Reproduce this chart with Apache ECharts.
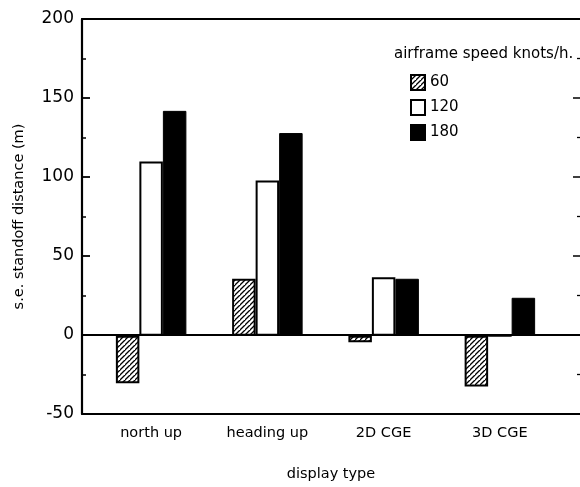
<!DOCTYPE html>
<html>
<head>
<meta charset="utf-8">
<script src="https://cdn.jsdelivr.net/npm/echarts@6/dist/echarts.min.js"></script>
<style>html,body{margin:0;padding:0;background:#fff}#c{width:580px;height:487px}</style>
</head>
<body>
<div id="c"></div>
<script>
var categories = ['north up', 'heading up', '2D CGE', '3D CGE'];
var speed60 = [-30, 36, -4, -32];
var speed120 = [110, 98, 37, 0];
var speed180 = [142, 128, 36, 24];
var seriesNames = ['60', '120', '180'];
var yTicks = [-50, 0, 50, 100, 150, 200];

var F = 'DejaVu Sans';

// hatch pattern "/"
var pc = document.createElement('canvas');
var s = 5;
pc.width = s; pc.height = s;
var g = pc.getContext('2d');
g.fillStyle = '#fff'; g.fillRect(0, 0, s, s);
g.strokeStyle = '#000'; g.lineWidth = 1.3;
g.beginPath();
g.moveTo(-1, s + 1); g.lineTo(s + 1, -1);
g.moveTo(-1 - s, s + 1); g.lineTo(1, -1);
g.moveTo(s - 1, 2 * s + 1); g.lineTo(2 * s + 1, s - 1);
g.stroke();

var chart = echarts.init(document.getElementById('c'));
var yMin = yTicks[0], yMax = yTicks[yTicks.length - 1];
chart.setOption({
  animation: false,
  title: {
    text: 'airframe speed knots/h.',
    left: 389, top: 42,
    textStyle: { fontFamily: F, fontSize: 15, fontWeight: 'normal', color: '#000' }
  },
  legend: {
    data: seriesNames,
    orient: 'vertical',
    left: 405, top: 69,
    itemWidth: 14, itemHeight: 15, itemGap: 8,
    icon: 'rect',
    textStyle: { fontFamily: F, fontSize: 15, color: '#000' }
  },
  grid: [
    { left: 93, width: 465, top: 19, bottom: 72 },
    { left: 82, right: 0, top: 19, bottom: 72 }
  ],
  xAxis: [
    {
      type: 'category', gridIndex: 0, data: categories, position: 'bottom',
      axisLine: { show: false, onZero: false }, axisTick: { show: false },
      axisLabel: { margin: 11, fontFamily: F, fontSize: 14.5, color: '#000' }
    },
    {
      type: 'value', gridIndex: 1, min: 0, max: 1, position: 'bottom',
      axisLine: { show: true, onZero: false, lineStyle: { color: '#000', width: 2 } },
      axisTick: { show: false }, axisLabel: { show: false }, splitLine: { show: false },
      name: 'display type', nameLocation: 'middle', nameGap: 53,
      nameTextStyle: { fontFamily: F, fontSize: 14.5, color: '#000' }
    },
    {
      type: 'value', gridIndex: 1, min: 0, max: 1, position: 'top',
      axisLine: { show: true, onZero: false, lineStyle: { color: '#000', width: 2 } },
      axisTick: { show: false }, axisLabel: { show: false }, splitLine: { show: false }
    },
    {
      type: 'value', gridIndex: 1, min: 0, max: 1, position: 'bottom',
      axisLine: { show: true, onZero: true, onZeroAxisIndex: 1, lineStyle: { color: '#000', width: 2 } },
      axisTick: { show: false }, axisLabel: { show: false }, splitLine: { show: false }
    }
  ],
  yAxis: [
    {
      type: 'value', gridIndex: 0, min: yMin, max: yMax, interval: 50, show: false,
      axisLine: { onZero: false }, splitLine: { show: false }
    },
    {
      type: 'value', gridIndex: 1, min: yMin, max: yMax, interval: 50, position: 'left',
      axisLine: { show: true, onZero: false, lineStyle: { color: '#000', width: 2.2 } },
      axisTick: { show: true, inside: true, length: 8, lineStyle: { color: '#000', width: 1.8 } },
      minorTick: { show: true, splitNumber: 2, length: 4, lineStyle: { color: '#000', width: 1.5 } },
      axisLabel: { margin: 8, fontFamily: F, fontSize: 17, color: '#000' },
      splitLine: { show: false },
      name: 's.e. standoff distance (m)', nameLocation: 'middle', nameGap: 55, nameRotate: 90,
      nameTextStyle: { fontFamily: F, fontSize: 14.5, color: '#000' }
    },
    {
      type: 'value', gridIndex: 1, min: yMin, max: yMax, interval: 50, position: 'right',
      axisLine: { show: false, onZero: false },
      axisTick: { show: true, inside: true, length: 7, lineStyle: { color: '#000', width: 1.5 } },
      minorTick: { show: true, splitNumber: 2, length: 3, lineStyle: { color: '#000', width: 1.3 } },
      axisLabel: { show: false }, splitLine: { show: false }
    }
  ],
  series: [
    {
      name: seriesNames[0], type: 'bar', xAxisIndex: 0, yAxisIndex: 0, data: speed60,
      barWidth: 23.5, barGap: '0%',
      itemStyle: { color: { image: pc, repeat: 'repeat' }, borderColor: '#000', borderWidth: 2 }
    },
    {
      name: seriesNames[1], type: 'bar', xAxisIndex: 0, yAxisIndex: 0, data: speed120,
      barWidth: 23.5, barGap: '0%',
      itemStyle: { color: '#fff', borderColor: '#000', borderWidth: 2 }
    },
    {
      name: seriesNames[2], type: 'bar', xAxisIndex: 0, yAxisIndex: 0, data: speed180,
      barWidth: 23.5, barGap: '0%',
      itemStyle: { color: '#000', borderColor: '#000', borderWidth: 1 }
    }
  ]
});
</script>
</body>
</html>
